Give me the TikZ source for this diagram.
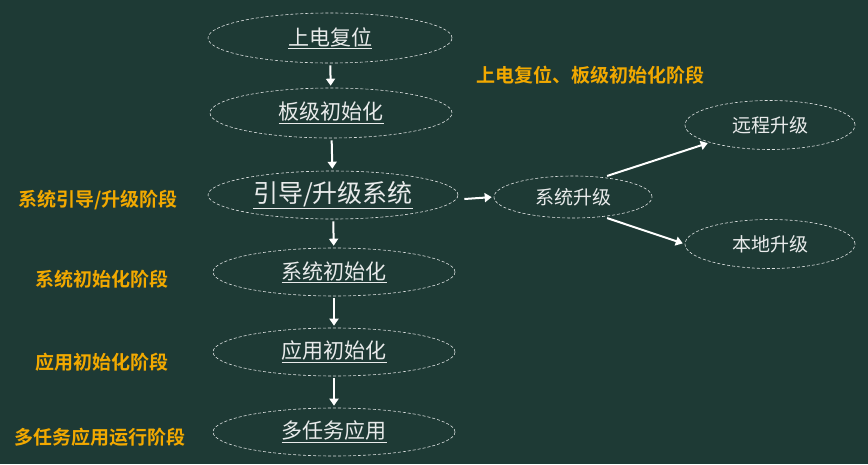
\documentclass[tikz,border=0pt]{standalone}
\usepackage{fontspec}
\setmainfont{Noto Sans CJK SC}
\newfontfamily\cjkb{Noto Sans CJK SC Bold}
\usetikzlibrary{shapes.geometric,arrows.meta}
\definecolor{bg}{HTML}{1E3A35}
\definecolor{lab}{HTML}{F2A900}
\begin{document}
\begin{tikzpicture}[x=1pt,y=-1pt,
  el/.style={ellipse,draw=white!85!bg,densely dashed,line width=0.6pt,text=white!90!bg,inner sep=0pt},
  ar/.style={draw=white,line width=2pt,shorten <=2pt,shorten >=2pt,-{Triangle[length=7pt,width=9pt]}},
  stage/.style={text=lab,font=\cjkb\fontsize{19}{22}\selectfont}]
\fill[bg] (0,0) rectangle (868,464);
\useasboundingbox (0,0) rectangle (868,464);
\node[el,minimum width=244,minimum height=50,font=\fontsize{21}{24}\selectfont] (a) at (330,38) {\underline{上电复位}};
\node[el,minimum width=242,minimum height=50,font=\fontsize{21}{24}\selectfont] (b) at (331,113) {\underline{板级初始化}};
\node[el,minimum width=250,minimum height=48,font=\fontsize{25}{28}\selectfont] (c) at (333,195) {\underline{引导/升级系统}};
\node[el,minimum width=242,minimum height=48,font=\fontsize{21}{24}\selectfont] (d) at (334,272) {\underline{系统初始化}};
\node[el,minimum width=242,minimum height=48,font=\fontsize{21}{24}\selectfont] (e) at (334,352) {\underline{应用初始化}};
\node[el,minimum width=242,minimum height=48,font=\fontsize{21}{24}\selectfont] (f) at (334,432) {\underline{多任务应用}};
\node[el,minimum width=158,minimum height=42,font=\fontsize{19}{22}\selectfont] (s) at (573,197) {系统升级};
\node[el,minimum width=170,minimum height=49,font=\fontsize{19}{22}\selectfont] (r) at (770,125) {远程升级};
\node[el,minimum width=170,minimum height=49,font=\fontsize{19}{22}\selectfont] (l) at (770,244) {本地升级};
\draw[ar] (a) -- (b);
\draw[ar] (b) -- (c);
\draw[ar] (c) -- (d);
\draw[ar] (d) -- (e);
\draw[ar] (e) -- (f);
\draw[ar,shorten <=0pt] (c.east) ++(6,4) coordinate (c1) -- (s.west);
\draw[ar,shorten <=0pt] (s.north east) ++(-22,-6) coordinate (s1) -- (r.south west);
\draw[ar,shorten <=0pt] (s.south east) ++(-22,6) coordinate (s2) -- (l.west);
\node[stage] (t0) at (590,75) {上电复位、板级初始化阶段};
\node[stage] (t1) at (98,200) {系统引导/升级阶段};
\node[stage] (t2) at (102,279) {系统初始化阶段};
\node[stage] (t3) at (102,362) {应用初始化阶段};
\node[stage] (t4) at (100,437) {多任务应用运行阶段};
\end{tikzpicture}
\end{document}
